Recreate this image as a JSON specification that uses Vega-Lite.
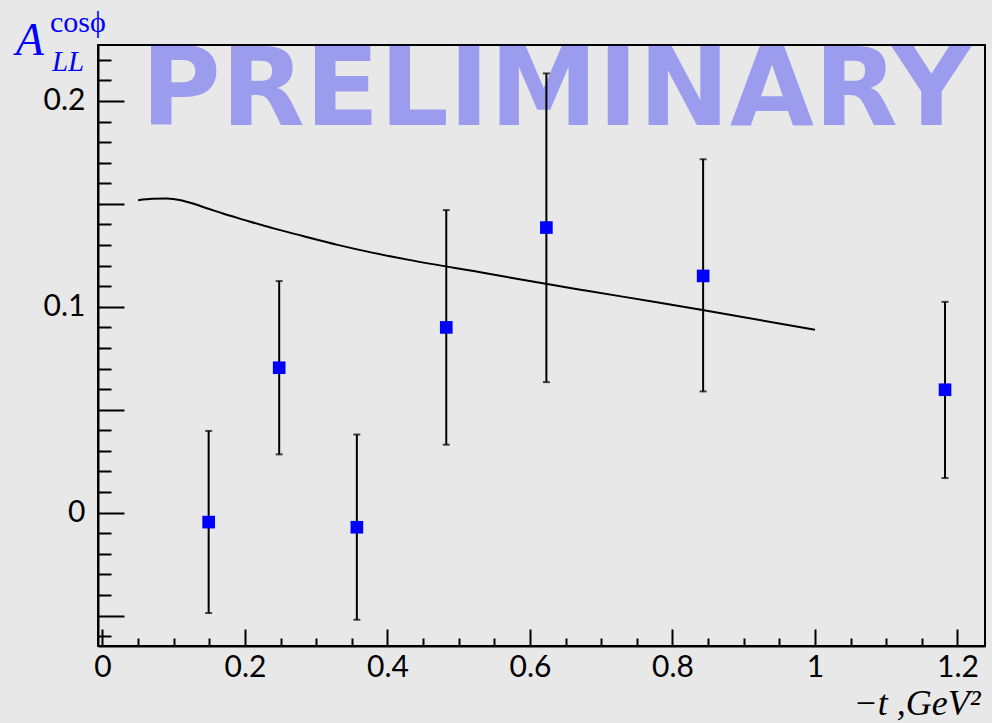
{
  "$schema": "https://vega.github.io/schema/vega-lite/v6.json",
  "width": 887,
  "height": 601,
  "autosize": "none",
  "padding": {"left": 98, "top": 45, "right": 7, "bottom": 77},
  "background": "#e8e8e8",
  "config": {
    "view": {"stroke": "black", "strokeWidth": 2},
    "axis": {
      "grid": false,
      "domainColor": "black",
      "domainWidth": 2,
      "tickColor": "black",
      "tickWidth": 2,
      "labelFont": "Lato",
      "labelFontSize": 30,
      "labelColor": "black",
      "labelFlush": false,
      "labelOverlap": false
    }
  },
  "datasets": {
    "asym": [
      {"t": 0.149, "a": -0.0046, "lo": -0.0488, "hi": 0.0397},
      {"t": 0.248, "a": 0.0704, "lo": 0.0283, "hi": 0.1125},
      {"t": 0.357, "a": -0.0071, "lo": -0.0521, "hi": 0.0379},
      {"t": 0.4825, "a": 0.090, "lo": 0.033, "hi": 0.147},
      {"t": 0.623, "a": 0.1385, "lo": 0.0634, "hi": 0.2134},
      {"t": 0.843, "a": 0.115, "lo": 0.0589, "hi": 0.1717},
      {"t": 1.1825, "a": 0.0597, "lo": 0.0168, "hi": 0.1024}
    ],
    "model": [
      {"t": 0.05, "a": 0.1518},
      {"t": 0.07, "a": 0.1525},
      {"t": 0.09, "a": 0.1526},
      {"t": 0.11, "a": 0.1518},
      {"t": 0.13, "a": 0.1498},
      {"t": 0.15, "a": 0.1475},
      {"t": 0.17, "a": 0.1452},
      {"t": 0.20, "a": 0.1421},
      {"t": 0.24, "a": 0.1381},
      {"t": 0.28, "a": 0.1345},
      {"t": 0.33, "a": 0.1301},
      {"t": 0.38, "a": 0.1262},
      {"t": 0.43, "a": 0.1228},
      {"t": 0.54, "a": 0.1162},
      {"t": 0.62, "a": 0.1113},
      {"t": 0.68, "a": 0.1078},
      {"t": 0.78, "a": 0.1021},
      {"t": 0.84, "a": 0.0986},
      {"t": 1.00, "a": 0.0888}
    ],
    "one": [{}]
  },
  "encoding": {
    "x": {
      "type": "quantitative",
      "scale": {"domain": [-0.0063, 1.2386], "nice": false, "zero": false},
      "axis": {
        "title": "−t ,GeV²",
        "titleFont": "Liberation Serif",
        "titleFontStyle": "italic",
        "titleFontWeight": "normal",
        "titleFontSize": 36,
        "titleColor": "black",
        "titleAnchor": "end",
        "titleAlign": "right",
        "titleBaseline": "alphabetic",
        "titleX": 882,
        "titleY": 68,
        "values": [0, 0.05, 0.1, 0.15, 0.2, 0.25, 0.3, 0.35, 0.4, 0.45, 0.5, 0.55, 0.6, 0.65, 0.7, 0.75, 0.8, 0.85, 0.9, 0.95, 1, 1.05, 1.1, 1.15, 1.2],
        "labelExpr": "abs(datum.value * 5 - round(datum.value * 5)) < 1e-6 ? format(datum.value, '~g') : ''",
        "tickSize": {"condition": {"test": "abs(datum.value * 5 - round(datum.value * 5)) < 1e-6", "value": -17}, "value": -8},
        "labelPadding": 23
      }
    },
    "y": {
      "type": "quantitative",
      "scale": {"domain": [-0.0648, 0.2272], "nice": false, "zero": false},
      "axis": {
        "title": null,
        "values": [-0.06, -0.05, -0.04, -0.03, -0.02, -0.01, 0, 0.01, 0.02, 0.03, 0.04, 0.05, 0.06, 0.07, 0.08, 0.09, 0.1, 0.11, 0.12, 0.13, 0.14, 0.15, 0.16, 0.17, 0.18, 0.19, 0.2, 0.21, 0.22],
        "labelExpr": "abs(datum.value * 10 - round(datum.value * 10)) < 1e-6 ? format(datum.value, '~g') : ''",
        "tickSize": {"condition": {"test": "abs(datum.value * 20 - round(datum.value * 20)) < 1e-6", "value": -26}, "value": -13},
        "labelPadding": 39
      }
    }
  },
  "layer": [
    {
      "data": {"name": "one"},
      "mark": {"type": "text", "text": "PRELIMINARY", "font": "DejaVu Sans", "fontWeight": "bold", "fontSize": 109, "color": "#0000ff", "opacity": 0.32, "align": "center", "baseline": "alphabetic"},
      "encoding": {"x": {"datum": 0.6365}, "y": {"datum": 0.1882}}
    },
    {
      "mark": {"type": "rule", "color": "black", "strokeWidth": 1.5, "strokeDash": [7, 4]},
      "encoding": {"y": {"datum": 0}}
    },
    {
      "data": {"name": "model"},
      "mark": {"type": "line", "color": "black", "strokeWidth": 2, "interpolate": "monotone"},
      "encoding": {"x": {"field": "t"}, "y": {"field": "a"}}
    },
    {
      "data": {"name": "asym"},
      "mark": {"type": "rule", "color": "black", "strokeWidth": 2},
      "encoding": {"x": {"field": "t"}, "y": {"field": "lo"}, "y2": {"field": "hi"}}
    },
    {
      "data": {"name": "asym"},
      "mark": {"type": "tick", "color": "black", "orient": "horizontal", "size": 7, "thickness": 2},
      "encoding": {"x": {"field": "t"}, "y": {"field": "lo"}}
    },
    {
      "data": {"name": "asym"},
      "mark": {"type": "tick", "color": "black", "orient": "horizontal", "size": 7, "thickness": 2},
      "encoding": {"x": {"field": "t"}, "y": {"field": "hi"}}
    },
    {
      "data": {"name": "asym"},
      "mark": {"type": "point", "shape": "square", "filled": true, "size": 160, "color": "#0000ff", "opacity": 1},
      "encoding": {"x": {"field": "t"}, "y": {"field": "a"}}
    },
    {
      "data": {"name": "one"},
      "mark": {"type": "text", "text": "A", "font": "Liberation Serif", "fontStyle": "italic", "fontSize": 46, "color": "#0000ff", "align": "center", "baseline": "alphabetic"},
      "encoding": {"x": {"datum": -0.102}, "y": {"datum": 0.2222}}
    },
    {
      "data": {"name": "one"},
      "mark": {"type": "text", "text": "LL", "font": "Liberation Serif", "fontStyle": "italic", "fontSize": 29, "color": "#0000ff", "align": "left", "baseline": "alphabetic"},
      "encoding": {"x": {"datum": -0.0709}, "y": {"datum": 0.2144}}
    },
    {
      "data": {"name": "one"},
      "mark": {"type": "text", "text": "cosϕ", "font": "Liberation Serif", "fontSize": 30, "color": "#0000ff", "align": "left", "baseline": "alphabetic"},
      "encoding": {"x": {"datum": -0.0737}, "y": {"datum": 0.2335}}
    }
  ]
}
